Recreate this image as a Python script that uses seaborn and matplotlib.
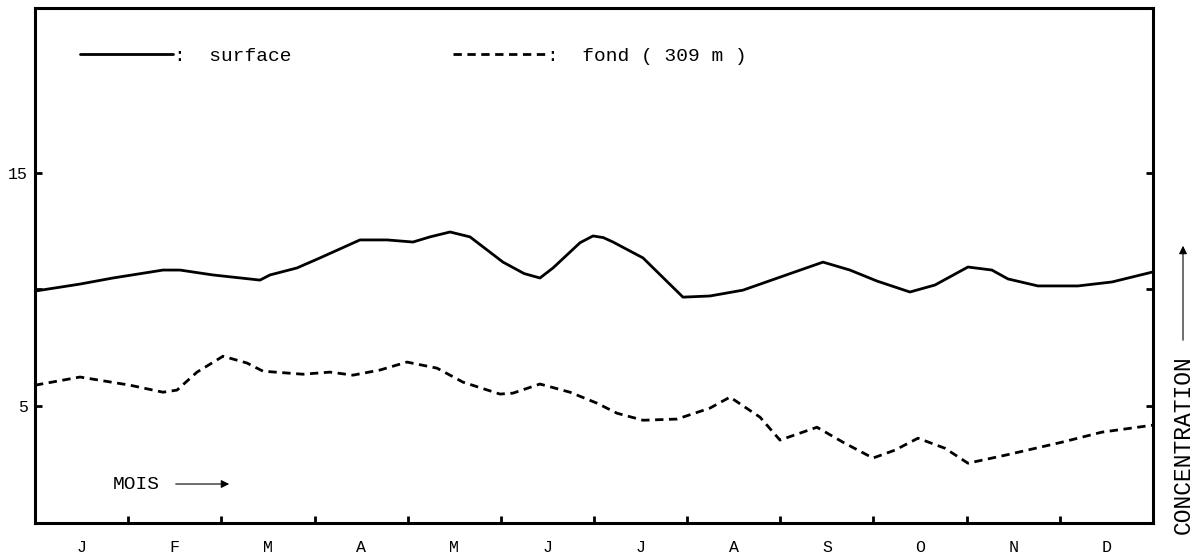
import numpy as np
import pandas as pd
import matplotlib
matplotlib.use("Agg")
import matplotlib.pyplot as plt
import seaborn as sns

# ---- data ----
months = ["J", "F", "M", "A", "M", "J", "J", "A", "S", "O", "N", "D"]

surface_mois = [0, 0.483, 0.837, 1.374, 1.556, 1.910, 2.415, 2.522, 2.812, 3.059,
                3.488, 3.778, 4.057, 4.240, 4.455, 4.669, 5.023, 5.25, 5.420, 5.560,
                5.85, 5.989, 6.10, 6.204, 6.526, 6.955, 7.245, 7.599, 8.028, 8.458,
                8.747, 9.037, 9.391, 9.660, 10.014, 10.271, 10.443, 10.765, 11.194,
                11.560, 12.0]
surface_conc = [9.93, 10.23, 10.49, 10.83, 10.83, 10.62, 10.40, 10.62, 10.92, 11.35,
                12.12, 12.12, 12.03, 12.25, 12.46, 12.25, 11.17, 10.68, 10.49, 10.92,
                12.00, 12.29, 12.22, 12.03, 11.35, 9.67, 9.72, 9.97, 10.57, 11.17,
                10.83, 10.36, 9.89, 10.19, 10.96, 10.83, 10.45, 10.15, 10.15,
                10.32, 10.75]

fond_mois = [0, 0.483, 1.020, 1.374, 1.524, 1.739, 2.018, 2.275, 2.447, 2.876,
             3.166, 3.413, 3.703, 3.993, 4.315, 4.594, 4.991, 5.130, 5.420, 5.742,
             6.032, 6.247, 6.526, 6.891, 7.245, 7.460, 7.782, 7.996, 8.393, 8.672,
             8.994, 9.230, 9.477, 9.767, 10.014, 10.411, 11.023, 11.452, 12.0]
fond_conc = [5.90, 6.25, 5.90, 5.60, 5.69, 6.46, 7.14, 6.85, 6.50, 6.37,
             6.46, 6.33, 6.55, 6.89, 6.63, 6.03, 5.52, 5.56, 5.95, 5.60,
             5.13, 4.70, 4.40, 4.45, 4.92, 5.39, 4.53, 3.55, 4.10, 3.46,
             2.78, 3.12, 3.63, 3.20, 2.56, 2.90, 3.46, 3.89, 4.19]

y_ticks = [5, 10, 15]
y_ticklabels = ["5", "", "15"]
legend_labels = [":  surface", ":  fond ( 309 m )"]

df = pd.concat([
    pd.DataFrame({"mois": surface_mois, "conc": surface_conc, "serie": "surface"}),
    pd.DataFrame({"mois": fond_mois, "conc": fond_conc, "serie": "fond"}),
], ignore_index=True)

# ---- style ----
sns.set_style("white")
plt.rcParams["font.family"] = ["Liberation Mono", "DejaVu Sans Mono"]
plt.rcParams["lines.solid_capstyle"] = "round"
plt.rcParams["lines.solid_joinstyle"] = "round"

fig = plt.figure(figsize=(11.93, 5.57), dpi=100)
ax = fig.add_axes([35 / 1193, 1 - 523 / 557, 1118 / 1193, 515 / 557])

sns.lineplot(data=df, x="mois", y="conc", style="serie",
             style_order=["surface", "fond"],
             dashes={"surface": "", "fond": (3, 2)},
             color="black", linewidth=2.0, estimator=None, sort=False,
             legend=False, ax=ax)

ax.set_xlim(0, 12)
ax.set_ylim(0, 22.05)
ax.set_xlabel("")
ax.set_ylabel("")

for s in ax.spines.values():
    s.set_linewidth(2.2)
    s.set_color("black")

ax.set_xticks(range(13))
ax.set_xticklabels([])
ax.set_xticks(np.arange(0.5, 12, 1), minor=True)
ax.set_xticklabels(months, minor=True)
ax.tick_params(axis="x", which="major", direction="in", length=5, width=2,
               bottom=True, top=False, color="black")
ax.tick_params(axis="x", which="minor", length=0, pad=12, labelsize=12,
               labelcolor="black")

ax.set_yticks(y_ticks)
ax.set_yticklabels(y_ticklabels)
ax.tick_params(axis="y", direction="in", length=5, width=2, left=True,
               right=True, labelsize=12, pad=5, color="black",
               labelcolor="black")

# legend
handles = ax.get_lines()[:2]
ax.legend(handles, legend_labels, loc="center left",
          bbox_to_anchor=(0.040, 0.907), borderaxespad=0, borderpad=0,
          frameon=False, ncol=2, handlelength=4.8, handletextpad=0.05,
          columnspacing=8.3, fontsize=14, labelcolor="black")

# MOIS annotation
ax.text(0.0908, 0.0738, "MOIS", transform=ax.transAxes, ha="center",
        va="center", fontsize=14, color="black")
ax.annotate("", xy=(0.1762, 0.0757), xytext=(0.1234, 0.0757),
            xycoords="axes fraction", textcoords="axes fraction",
            arrowprops=dict(arrowstyle="-|>", color="black", lw=0.8,
                            mutation_scale=12))

# CONCENTRATION annotation
fig.text(1183 / 1193, 1 - 445 / 557, "CONCENTRATION", rotation=90,
         ha="center", va="center", fontsize=16.5, color="black")
fig.patches.append(matplotlib.patches.FancyArrowPatch(
    (1183 / 1193, 1 - 343 / 557), (1183 / 1193, 1 - 243 / 557),
    transform=fig.transFigure, arrowstyle="-|>", color="black", lw=0.8,
    mutation_scale=12))

fig.savefig("out.png", dpi=100)
